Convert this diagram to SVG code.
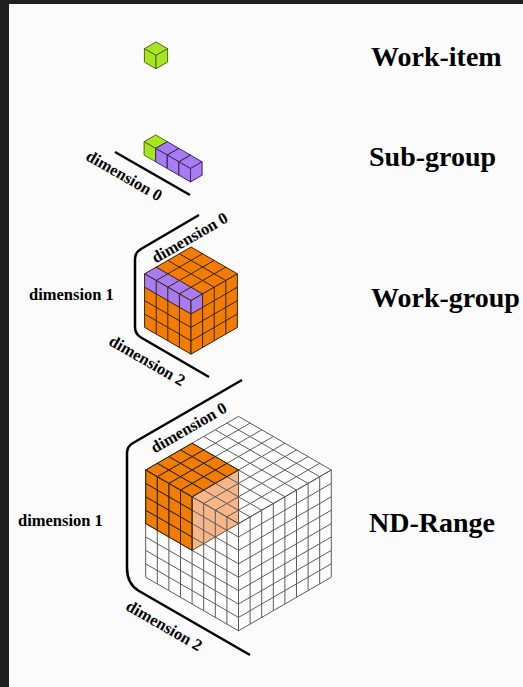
<svg xmlns="http://www.w3.org/2000/svg" xmlns:xlink="http://www.w3.org/1999/xlink" width="523" height="687" viewBox="0 0 523 687">
  <style>
    .title{font-family:"Liberation Serif","Times New Roman",serif;font-weight:bold;font-size:28px;fill:#000}
    .dim{font-family:"Liberation Serif","Times New Roman",serif;font-weight:bold;font-size:16.5px;fill:#000}
    .grid{fill:none;vector-effect:non-scaling-stroke;stroke-width:1}
    .bracket{fill:none;stroke:#000;stroke-width:2.5;stroke-linecap:butt}
    .edge{stroke-width:1;stroke-linejoin:round}
    .green{fill:#a6e51f;stroke:#4f6b12}
    .purple{fill:#a77cf0;stroke:#3f2566}
    .orange{fill:#f07d00}
  </style>
  <defs>
    <!-- unit isometric cube, top vertex at origin: a=(11.6,6.7), b=(-11.6,6.7), v=(0,13.4) -->
    <g id="cube">
      <path class="edge" d="M0,0 L11.6,6.7 L0,13.4 L-11.6,6.7Z"/>
      <path class="edge" d="M-11.6,6.7 L0,13.4 L0,26.8 L-11.6,20.1Z"/>
      <path class="edge" d="M0,13.4 L11.6,6.7 L11.6,20.1 L0,26.8Z"/>
    </g>
    <path id="g8" class="grid" d="M0 0H8M0 1H8M0 2H8M0 3H8M0 4H8M0 5H8M0 6H8M0 7H8M0 8H8M0 0V8M1 0V8M2 0V8M3 0V8M4 0V8M5 0V8M6 0V8M7 0V8M8 0V8"/>
    <path id="g4" class="grid" d="M0 0H4M0 1H4M0 2H4M0 3H4M0 4H4M0 0V4M1 0V4M2 0V4M3 0V4M4 0V4"/>
  </defs>

  <!-- frame -->
  <rect x="0" y="0" width="523" height="687" fill="#1f1f1f"/>
  <rect x="9" y="4" width="514" height="683" fill="#fbfbfb"/>

  <!-- work-item -->
  <g id="work-item">
    <use xlink:href="#cube" class="green" transform="translate(156,42)"/>
    <text class="title" x="371" y="66">Work-item</text>
  </g>

  <!-- sub-group: one work-item followed by three more along dimension 0 -->
  <g id="sub-group">
    <use xlink:href="#cube" class="green" transform="translate(155.7,135)"/>
    <use xlink:href="#cube" class="purple" transform="translate(167.3,141.7)"/>
    <use xlink:href="#cube" class="purple" transform="translate(178.9,148.4)"/>
    <use xlink:href="#cube" class="purple" transform="translate(190.5,155.1)"/>
    <text class="title" x="369" y="166">Sub-group</text>
  </g>

  <!-- work-group: 4x4x4 block, front-top row highlighted -->
  <g id="work-group">
    <!-- top face -->
    <g transform="matrix(11.6,6.7,-11.6,6.7,191,247)">
      <rect width="4" height="4" class="orange"/>
      <rect y="3" width="4" height="1" fill="#a77cf0"/>
      <use xlink:href="#g4" stroke="#3a2008"/>
    </g>
    <!-- left face -->
    <g transform="matrix(11.6,6.7,0,13.4,144.6,273.8)">
      <rect width="4" height="4" class="orange"/>
      <rect width="4" height="1" fill="#a77cf0"/>
      <use xlink:href="#g4" stroke="#3a2008"/>
    </g>
    <!-- right face -->
    <g transform="matrix(11.6,-6.7,0,13.4,191,300.6)">
      <rect width="4" height="4" class="orange"/>
      <rect width="1" height="1" fill="#a77cf0"/>
      <use xlink:href="#g4" stroke="#3a2008"/>
    </g>
    <text class="title" x="371" y="307">Work-group</text>
  </g>

  <!-- ND-range: 8x8x8 block containing one work-group -->
  <g id="nd-range">
    <!-- top face -->
    <g transform="matrix(11.6,6.7,-11.6,6.7,238.5,416.4)">
      <rect width="8" height="8" fill="#fff"/>
      <rect y="4" width="4" height="4" class="orange"/>
    </g>
    <!-- left face -->
    <g transform="matrix(11.6,6.7,0,13.4,145.7,470)">
      <rect width="8" height="8" fill="#fff"/>
      <rect width="4" height="4" class="orange"/>
    </g>
    <!-- right face -->
    <g transform="matrix(11.6,-6.7,0,13.4,238.5,523.6)">
      <rect width="8" height="8" fill="#fff"/>
    </g>
    <!-- hidden side of the work-group seen through the block -->
    <path d="M238.5,470 L192.1,496.8 L192.1,550.4 L238.5,523.6Z" fill="#f7b68a" stroke="#6a4a30" stroke-width="1"/>
    <!-- grid lines -->
    <g transform="matrix(11.6,6.7,-11.6,6.7,238.5,416.4)">
      <use xlink:href="#g8" stroke="#5a5a5a"/>
      <use xlink:href="#g4" stroke="#3a2008" transform="translate(0,4)"/>
    </g>
    <g transform="matrix(11.6,6.7,0,13.4,145.7,470)">
      <use xlink:href="#g8" stroke="#5a5a5a"/>
      <use xlink:href="#g4" stroke="#3a2008"/>
    </g>
    <g transform="matrix(11.6,-6.7,0,13.4,238.5,523.6)">
      <use xlink:href="#g8" stroke="#5a5a5a"/>
    </g>
    <text class="title" x="369" y="532">ND-Range</text>
  </g>

  <!-- dimension guides -->
  <g id="connectors">
    <path class="bracket" d="M115,152 L190,195"/>
    <path class="bracket" d="M199,215 L141,249 Q135,252.5 135,259 V327 Q135,334 141,337.5 L209,377"/>
    <path class="bracket" d="M242,380 L133,443 Q127,446.5 127,453 V568 Q127,584 139,591 L250,655"/>
  </g>

  <g id="labels">
    <text class="dim" text-anchor="middle" transform="translate(124,176) rotate(30)" y="5">dimension 0</text>
    <text class="dim" text-anchor="middle" transform="translate(190,238) rotate(-30)" y="5">dimension 0</text>
    <text class="dim" x="29" y="300">dimension 1</text>
    <text class="dim" text-anchor="middle" transform="translate(147,361) rotate(30)" y="5">dimension 2</text>
    <text class="dim" text-anchor="middle" transform="translate(189,428) rotate(-30)" y="5">dimension 0</text>
    <text class="dim" x="18" y="526">dimension 1</text>
    <text class="dim" text-anchor="middle" transform="translate(164,626) rotate(30)" y="5">dimension 2</text>
  </g>
</svg>
